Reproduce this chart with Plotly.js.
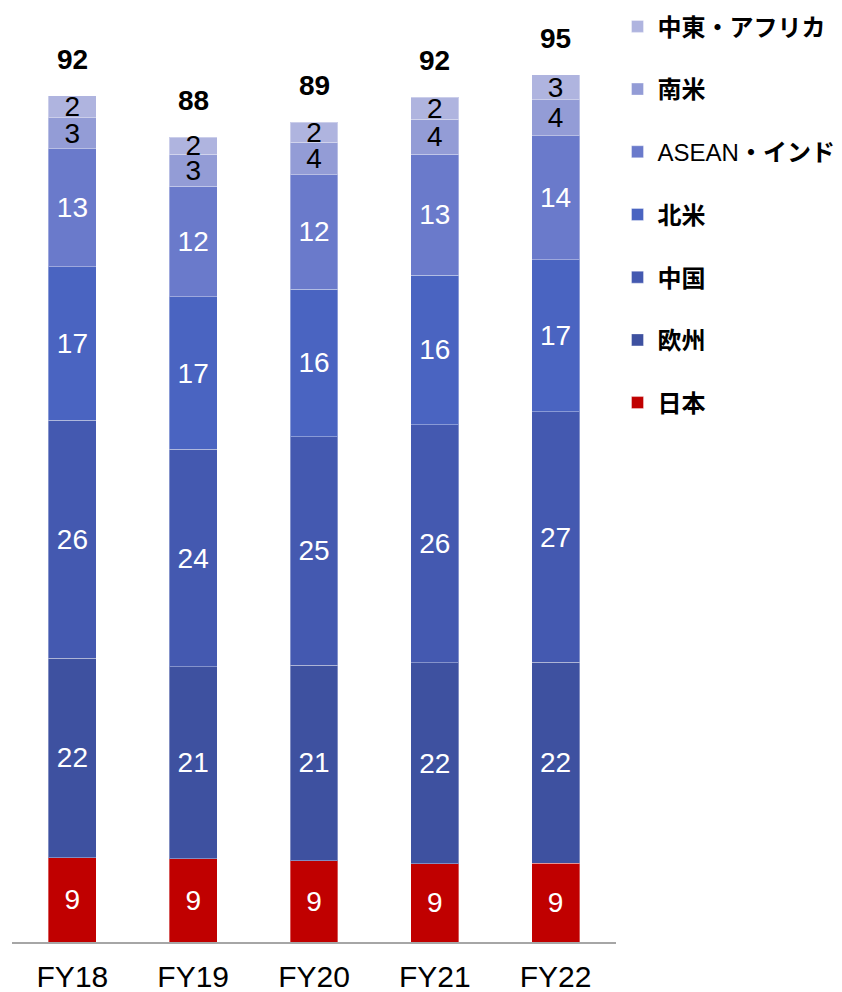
<!DOCTYPE html>
<html>
<head>
<meta charset="utf-8">
<script src="https://cdn.plot.ly/plotly-3.0.1.min.js"></script>
<style>html,body{margin:0;padding:0;background:#fff;}#chart{width:842px;height:992px;}</style>
</head>
<body>
<div id="chart"></div>
<script>
// Categories
const years = ['FY18', 'FY19', 'FY20', 'FY21', 'FY22'];

// Series names (bottom of stack first)
const names = ['日本', '欧州', '中国', '北米', 'ASEAN・インド', '南米', '中東・アフリカ'];

// Segment values
const japan   = [9.19, 9.08, 8.87, 8.55, 8.58];
const europe  = [21.78, 20.94, 21.31, 21.92, 21.92];
const china   = [25.92, 23.71, 24.93, 25.95, 27.30];
const namer   = [16.75, 16.64, 16.07, 16.31, 16.61];
const asean   = [12.87, 12.07, 12.50, 13.20, 13.52];
const samer   = [3.38, 3.46, 3.55, 3.78, 3.93];
const mea     = [2.40, 1.85, 2.15, 2.40, 2.73];

// Printed segment labels
const japanLbl  = ['9', '9', '9', '9', '9'];
const europeLbl = ['22', '21', '21', '22', '22'];
const chinaLbl  = ['26', '24', '25', '26', '27'];
const namerLbl  = ['17', '17', '16', '16', '17'];
const aseanLbl  = ['13', '12', '12', '13', '14'];
const samerLbl  = ['3', '3', '4', '4', '4'];
const meaLbl    = ['2', '2', '2', '2', '3'];

// Printed totals
const totals = ['92', '88', '89', '92', '95'];

const series = [japan, europe, china, namer, asean, samer, mea];
const labels = [japanLbl, europeLbl, chinaLbl, namerLbl, aseanLbl, samerLbl, meaLbl];
const colors = ['#C00000', '#3E51A0', '#4459B0', '#4A64C1', '#6A7ACB', '#939CD6', '#AFB4DF'];
const textColors = ['#FFFFFF', '#FFFFFF', '#FFFFFF', '#FFFFFF', '#FFFFFF', '#000000', '#000000'];
const legendNames = ['<b>日本</b>', '<b>欧州</b>', '<b>中国</b>', '<b>北米</b>', 'ASEAN<b>・インド</b>', '<b>南米</b>', '<b>中東・アフリカ</b>'];

const FONT = "Arial, 'Liberation Sans', 'Noto Sans CJK JP', sans-serif";

const traces = series.map((vals, i) => ({
  type: 'bar',
  name: legendNames[i],
  legendgroup: 'g' + i,
  legendrank: series.length - i,
  x: years,
  y: vals,
  text: labels[i],
  texttemplate: '%{text}',
  textposition: 'inside',
  insidetextanchor: 'middle',
  textangle: 0,
  constraintext: 'none',
  textfont: {family: FONT, size: 28, color: textColors[i]},
  marker: {color: colors[i], line: {color: 'rgba(255,255,255,0.35)', width: 1}},
  hoverinfo: 'skip'
}));

const sums = years.map((_, j) => series.reduce((s, arr) => s + arr[j], 0));
const annotations = years.map((yr, j) => ({
  x: yr, y: sums[j], xref: 'x', yref: 'y',
  text: '<b>' + totals[j] + '</b>',
  showarrow: false, yanchor: 'middle', yshift: 36.5,
  font: {family: FONT, size: 28, color: '#000000'}
}));

const layout = {
  width: 842, height: 992,
  margin: {l: 12, r: 226, t: 25, b: 50, autoexpand: false},
  paper_bgcolor: '#FFFFFF', plot_bgcolor: '#FFFFFF',
  barmode: 'stack',
  bargap: 0.603,
  showlegend: true,
  legend: {
    x: 1.0025, xanchor: 'left', y: 1.0226, yanchor: 'top',
    traceorder: 'grouped', tracegroupgap: 28.5,
    font: {family: FONT, size: 24, color: '#000000'},
    bgcolor: 'rgba(0,0,0,0)'
  },
  xaxis: {
    type: 'category',
    showline: true, linecolor: '#A6A6A6', linewidth: 2,
    ticks: '', showgrid: false, zeroline: false,
    ticklabelstandoff: 7,
    tickfont: {family: FONT, size: 30, color: '#000000'},
    fixedrange: true
  },
  yaxis: {
    range: [0, 100], visible: false, showgrid: false, zeroline: false, fixedrange: true
  },
  annotations: annotations,
  font: {family: FONT}
};

Plotly.newPlot('chart', traces, layout, {displayModeBar: false, staticPlot: true});
</script>
</body>
</html>
